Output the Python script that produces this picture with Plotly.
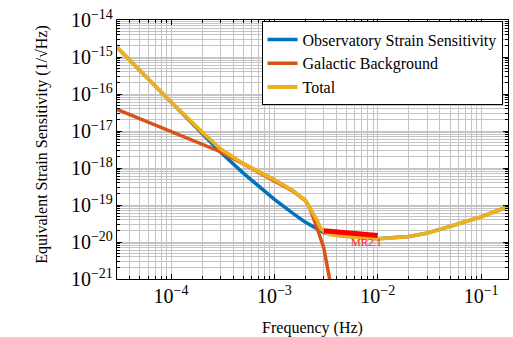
import numpy as np
import plotly.graph_objects as go

# Observatory strain sensitivity (1/sqrt(Hz)) vs frequency (Hz)
freq_obs = [3e-5, 5e-5, 1e-4, 2e-4, 3e-4, 5e-4, 1e-3, 1.5e-3, 2e-3, 3e-3, 4e-3,
            5e-3, 7e-3, 1e-2, 2e-2, 3e-2, 5e-2, 0.1, 0.2]
obs = [1.82e-15, 4.26e-16, 6.01e-17, 8.37e-18, 2.71e-18, 7.27e-19, 1.42e-19,
       6.05e-20, 3.40e-20, 1.79e-20, 1.51e-20, 1.42e-20, 1.31e-20, 1.22e-20,
       1.40e-20, 1.74e-20, 2.65e-20, 4.78e-20, 1.0e-19]

# Galactic confusion background
freq_gal = [3e-5, 5e-5, 1e-4, 2e-4, 3e-4, 5e-4, 1e-3, 1.5e-3, 2e-3, 2.2e-3,
            2.4e-3, 2.6e-3, 2.8e-3, 3e-3, 3.3e-3, 3.6e-3, 4e-3]
gal = [3.82e-17, 2.15e-17, 9.89e-18, 4.53e-18, 2.75e-18, 1.29e-18, 4.62e-19,
       2.41e-19, 1.30e-19, 8.2e-20, 4.28e-20, 2.07e-20, 1.24e-20, 7.0e-21,
       2.04e-21, 5.2e-22, 1e-22]

# Combined (total) sensitivity
freq_tot = [3e-5, 5e-5, 1e-4, 2e-4, 3e-4, 5e-4, 1e-3, 1.5e-3, 2e-3, 2.2e-3,
            2.4e-3, 2.6e-3, 2.8e-3, 3e-3, 3.5e-3, 4e-3, 5e-3, 7e-3, 1e-2, 2e-2,
            3e-2, 5e-2, 0.1, 0.2]
tot = [1.82e-15, 4.27e-16, 6.1e-17, 9.35e-18, 3.30e-18, 1.32e-18, 4.83e-19,
       2.50e-19, 1.32e-19, 8.4e-20, 5.8e-20, 3.73e-20, 2.36e-20, 1.93e-20,
       1.58e-20, 1.50e-20, 1.42e-20, 1.31e-20, 1.22e-20, 1.40e-20, 1.74e-20,
       2.65e-20, 4.78e-20, 1.0e-19]

# MR2.1 requirement segment
freq_mr = [3e-3, 1e-2]
mr = [2.0e-20, 1.5e-20]
mr_label = "MR2.1"
mr_label_pos = (7.8e-3, 1.02e-20)

BLUE = "#0072BD"
ORANGE = "#D95319"
YELLOW = "#EDB120"
GRID = "#c4c4c4"
FONT = "Liberation Serif, DejaVu Serif, serif"

W, H = 513, 337
L, R, T, B = 116.5, 4.5, 19.5, 57.5
pw, ph = W - L - R, H - T - B

fig = go.Figure()
fig.add_trace(go.Scatter(x=freq_obs, y=obs, mode="lines",
                         name="Observatory Strain Sensitivity",
                         line=dict(color=BLUE, width=3.5)))
fig.add_trace(go.Scatter(x=freq_gal, y=gal, mode="lines",
                         name="Galactic Background",
                         line=dict(color=ORANGE, width=3.5)))
fig.add_trace(go.Scatter(x=freq_tot, y=tot, mode="lines", name="Total",
                         line=dict(color=YELLOW, width=3.8)))
fig.add_trace(go.Scatter(x=freq_mr, y=mr, mode="lines", showlegend=False,
                         line=dict(color="#ff0000", width=5)))

fig.add_annotation(x=np.log10(mr_label_pos[0]), y=np.log10(mr_label_pos[1]),
                   xref="x", yref="y", text=mr_label, showarrow=False,
                   font=dict(family=FONT, size=11, color="#ff2020"))

# rotated y-axis title, placed in paper coordinates
fig.add_annotation(x=(30 - L) / pw, y=1 - (144 - T) / ph,
                   xref="paper", yref="paper",
                   text="Equivalent Strain Sensitivity (1/√Hz)",
                   textangle=-90, showarrow=False,
                   font=dict(family=FONT, size=16, color="black"))

axis_common = dict(
    type="log", showline=True, linecolor="black", linewidth=1, mirror="allticks",
    ticks="inside", ticklen=5, tickcolor="black", dtick=1,
    exponentformat="power", showgrid=True, gridcolor=GRID, gridwidth=1,
    zeroline=False,
    tickfont=dict(family=FONT, size=16, color="black"),
    minor=dict(ticks="inside", ticklen=3, tickcolor="black", showgrid=True,
               gridcolor=GRID, gridwidth=1),
)

fig.update_xaxes(**axis_common, range=[np.log10(3e-5), np.log10(0.182)],
                 title=dict(text="Frequency (Hz)", standoff=15,
                            font=dict(family=FONT, size=16, color="black")))
fig.update_yaxes(**axis_common, range=[-21, -14])

fig.update_layout(
    width=W, height=H,
    margin=dict(l=L, r=R, t=T, b=B, pad=0),
    plot_bgcolor="white", paper_bgcolor="white",
    font=dict(family=FONT, size=16, color="black"),
    legend=dict(x=(503 - L) / pw, xanchor="right", y=1 - (21 - T) / ph,
                yanchor="top", bgcolor="white", bordercolor="black",
                borderwidth=1, tracegroupgap=0,
                font=dict(family=FONT, size=16, color="black")),
)

fig.write_html("out.html")
